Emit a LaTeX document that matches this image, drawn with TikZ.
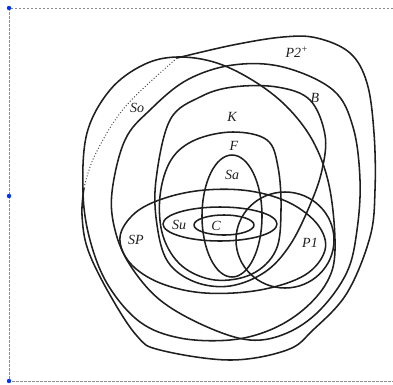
\documentclass[tikz,border=0pt]{standalone}
\usepackage{fontspec}
\setmainfont{Liberation Serif}
\begin{document}
\begin{tikzpicture}[x=1pt,y=-1pt,
  curve/.style={draw=black!88, line width=1.55pt, line join=round},
  dotcurve/.style={draw=black!70, line width=1pt, dotted},
  lab/.style={font=\fontsize{14}{16}\selectfont\itshape, text=black!88, inner sep=0pt},
  frame/.style={draw=black!45, line width=0.7pt, dash pattern=on 2.5pt off 1.5pt},
  handle/.style={fill=blue!80!cyan, draw=none}]
\useasboundingbox (0,0) rectangle (393,384);
% frame
\draw[frame] (393,8) -- (9,8) -- (9,381) -- (393,381);
\fill[handle] (9,8) circle (2.2pt);
\fill[handle] (9,196) circle (2.2pt);
\fill[handle] (9,381) circle (2.2pt);
% P2+
\draw[curve] plot[smooth, tension=0.6] coordinates {(177,58) (233,45) (283,37) (317,38) (350,53) (367,83) (374,133) (375,190) (370,237) (347,293) (313,330) (287,350) (230,360) (160,350) (137,336) (110,295) (88,250) (82,215) (84,188)};
\draw[dotcurve] plot[smooth, tension=0.6] coordinates {(84,188) (95,155) (125,107) (177,58)};
% So
\draw[curve] plot[smooth cycle, tension=0.6] coordinates {(177,57) (217,63) (257,83) (290,110) (315,145) (330,190) (335,250) (327,282) (303,310) (270,330) (230,340) (180,338) (140,322) (108,285) (90,240) (83,192) (87,133) (110,90) (143,65)};
% B
\draw[curve] plot[smooth cycle, tension=0.6] coordinates {(112,192) (125,140) (150,110) (187,80) (233,65) (283,67) (333,90) (353,127) (360,180) (357,230) (347,272) (320,310) (287,333) (250,340) (205,326) (160,300) (130,265) (115,230)};
% K
\draw[curve] plot[smooth cycle, tension=0.6] coordinates {(170,120) (200,97) (233,87) (277,87) (310,100) (325,135) (322,170) (310,205) (290,245) (265,272) (230,286) (195,282) (168,262) (157,225) (156,180)};
% F
\draw[curve] plot[smooth cycle, tension=0.6] coordinates {(195,140) (233,132) (267,140) (278,167) (281,210) (276,250) (252,274) (215,280) (182,266) (163,236) (160,196) (171,160)};
% Sa
\draw[curve] (232,216) ellipse [x radius=30, y radius=61];
% SP
\draw[curve] plot[smooth cycle, tension=0.6] coordinates {(120,237) (135,213) (165,198) (205,190) (250,191) (290,203) (318,225) (325,250) (305,275) (260,290) (205,293) (160,283) (130,263)};
% P1
\draw[curve] (285,240) ellipse [x radius=49, y radius=48];
% Su, C
\draw[curve] (220,224) ellipse [x radius=57, y radius=17];
\draw[curve] (224,225) ellipse [x radius=30, y radius=10];
% labels
\node[lab] (lP2) at (297,52) {P2\textsuperscript{+}};
\node[lab] (lSo) at (137,108) {So};
\node[lab] (lB) at (315,98) {B};
\node[lab] (lK) at (232,117) {K};
\node[lab] (lF) at (234,146) {F};
\node[lab] (lSa) at (232,175) {Sa};
\node[lab] (lSu) at (179,225) {Su};
\node[lab] (lC) at (216,226) {C};
\node[lab] (lSP) at (136,240) {SP};
\node[lab] (lP1) at (310,243) {P1};
\end{tikzpicture}
\end{document}
